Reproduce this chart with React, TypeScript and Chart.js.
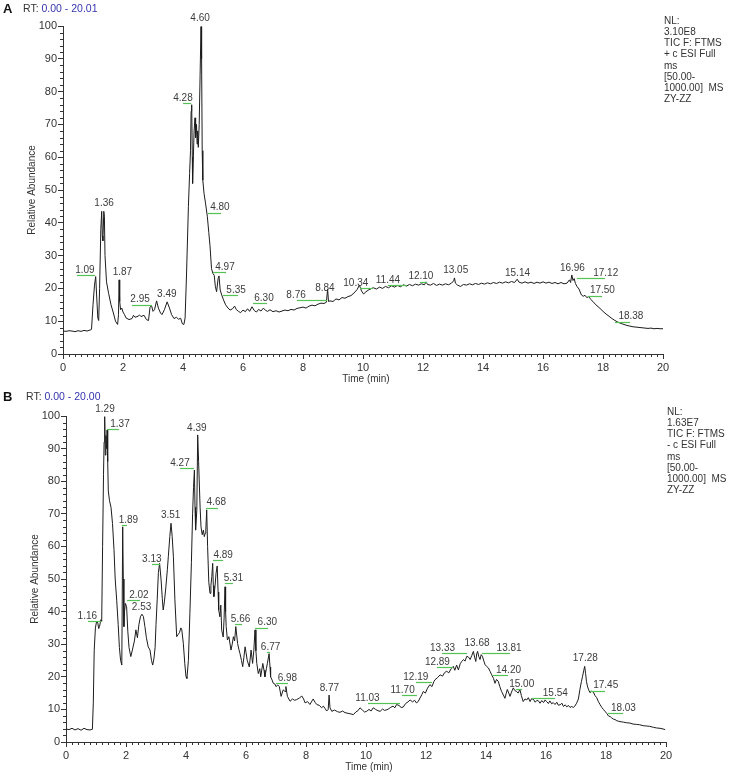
import React, { useEffect, useRef } from 'react';
import { Chart, registerables } from 'chart.js';

Chart.register(...registerables);

// ---- Panel A data: [time (min), relative abundance] ----
const traceA: [number, number][] = [
  [0.0, 7.0], [0.1, 6.9], [0.2, 7.1], [0.3, 7.0], [0.4, 6.8], [0.5, 7.1], [0.6, 6.9], [0.7, 7.2], [0.8, 7.0], [0.9, 7.3],
  [0.95, 7.5], [1.0, 15], [1.05, 21], [1.09, 23.6], [1.12, 18], [1.16, 11], [1.19, 10.2], [1.22, 20], [1.26, 38], [1.29, 43.5],
  [1.31, 36], [1.33, 34.5], [1.36, 43.5], [1.38, 42], [1.4, 30], [1.45, 22], [1.52, 18.5], [1.6, 15], [1.68, 12.5], [1.75, 10],
  [1.82, 9], [1.85, 12], [1.87, 22.6], [1.89, 16], [1.92, 13.5], [1.96, 14], [2.0, 12.8], [2.05, 12], [2.1, 11], [2.2, 10.5],
  [2.3, 10.8], [2.35, 11.8], [2.4, 11.2], [2.5, 11.5], [2.55, 11.9], [2.6, 11.4], [2.7, 11.8], [2.78, 10.5], [2.85, 10.2], [2.9, 14.2],
  [2.95, 14.8], [3.0, 13], [3.05, 13.5], [3.12, 16.2], [3.18, 14], [3.25, 12.5], [3.3, 12], [3.38, 13.5], [3.47, 15.9], [3.55, 14],
  [3.62, 12], [3.7, 10.8], [3.78, 11.2], [3.85, 10.6], [3.92, 10.9], [3.98, 9.2], [4.03, 9], [4.07, 11], [4.12, 25], [4.18, 45],
  [4.22, 55], [4.25, 62], [4.27, 74], [4.29, 76], [4.31, 60], [4.32, 52], [4.34, 58], [4.37, 68], [4.4, 72], [4.42, 66],
  [4.45, 70], [4.47, 64], [4.49, 68], [4.51, 63], [4.54, 70], [4.57, 85], [4.6, 99.8], [4.62, 90], [4.64, 62], [4.66, 53],
  [4.7, 49], [4.75, 46], [4.81, 42], [4.86, 37], [4.9, 33], [4.95, 26], [5.0, 24.5], [5.04, 24], [5.08, 20.5], [5.12, 19],
  [5.17, 23], [5.2, 23.8], [5.24, 19.5], [5.29, 18], [5.35, 16.5], [5.42, 15], [5.5, 14], [5.57, 13.4], [5.65, 13.8], [5.72, 14.6],
  [5.78, 13.5], [5.85, 13], [5.92, 12.6], [6.0, 13.4], [6.08, 12.9], [6.15, 13.8], [6.22, 13.0], [6.3, 14.4], [6.38, 13.2], [6.45, 12.8],
  [6.52, 13.6], [6.6, 13.1], [6.68, 14.0], [6.75, 13.3], [6.82, 13.0], [6.9, 13.5], [7.0, 12.9], [7.1, 13.2], [7.2, 12.8], [7.3, 13.1],
  [7.4, 13.4], [7.5, 13.2], [7.6, 13.6], [7.7, 13.4], [7.8, 13.9], [7.9, 14.1], [8.0, 14.3], [8.1, 14.0], [8.2, 14.6], [8.3, 14.9],
  [8.4, 14.7], [8.5, 15.2], [8.6, 15.5], [8.7, 15.4], [8.78, 15.8], [8.82, 19.8], [8.85, 16], [8.9, 16.2], [9.0, 16.0], [9.1, 16.8],
  [9.2, 16.5], [9.3, 17.2], [9.4, 17.0], [9.5, 17.5], [9.6, 17.8], [9.7, 18.6], [9.8, 19.6], [9.88, 21.0], [9.95, 19.2], [10.02, 18.3],
  [10.1, 19.0], [10.2, 19.6], [10.34, 20.2], [10.45, 19.8], [10.55, 20.4], [10.65, 20.0], [10.75, 20.6], [10.85, 20.2], [10.95, 20.8], [11.05, 20.4],
  [11.15, 20.9], [11.25, 20.5], [11.35, 21.1], [11.45, 20.7], [11.55, 21.2], [11.65, 20.8], [11.75, 21.3], [11.85, 21.0], [11.95, 21.4], [12.05, 21.1],
  [12.1, 22.0], [12.15, 21.2], [12.25, 21.0], [12.35, 21.5], [12.45, 20.9], [12.55, 21.3], [12.65, 21.0], [12.75, 21.4], [12.85, 21.1], [12.95, 21.6],
  [13.02, 22.3], [13.05, 23.2], [13.08, 21.6], [13.15, 21.0], [13.25, 20.6], [13.35, 21.2], [13.45, 21.0], [13.55, 21.4], [13.65, 21.1], [13.75, 21.5],
  [13.85, 21.2], [13.95, 21.6], [14.05, 21.3], [14.15, 21.7], [14.25, 21.4], [14.35, 21.8], [14.45, 21.5], [14.55, 21.9], [14.65, 21.6], [14.75, 22.0],
  [14.85, 21.7], [14.95, 22.1], [15.05, 21.8], [15.14, 22.8], [15.2, 21.9], [15.3, 21.6], [15.4, 22.0], [15.5, 21.6], [15.6, 21.9], [15.7, 21.5],
  [15.8, 21.9], [15.9, 21.6], [16.0, 22.0], [16.1, 21.6], [16.2, 21.9], [16.3, 21.5], [16.4, 21.8], [16.5, 21.4], [16.6, 21.8], [16.7, 21.4],
  [16.8, 21.6], [16.88, 22.6], [16.92, 21.8], [16.96, 24.1], [17.0, 22.4], [17.04, 23.0], [17.08, 21.5], [17.14, 20.5], [17.2, 19.8], [17.28, 18.0],
  [17.34, 17.6], [17.4, 17.9], [17.46, 17.2], [17.52, 17.5], [17.6, 16.6], [17.7, 15.6], [17.8, 14.7], [17.9, 13.9], [18.0, 13.0], [18.1, 12.2],
  [18.2, 11.5], [18.3, 10.8], [18.4, 10.2], [18.5, 9.7], [18.6, 9.3], [18.7, 9.0], [18.8, 8.7], [18.9, 8.5], [19.0, 8.3], [19.1, 8.2],
  [19.2, 8.1], [19.3, 8.0], [19.4, 7.9], [19.5, 7.8], [19.6, 7.9], [19.7, 7.7], [19.8, 7.8], [19.9, 7.7], [20.0, 7.7],
];

// ---- Panel B data ----
const traceB: [number, number][] = [
  [0.0, 4.0], [0.1, 3.8], [0.2, 4.2], [0.3, 3.7], [0.4, 4.1], [0.5, 3.6], [0.6, 4.2], [0.7, 3.8], [0.8, 3.7], [0.88, 3.9],
  [0.91, 12], [0.94, 28], [0.98, 35], [1.02, 37], [1.06, 36.5], [1.09, 34.8], [1.12, 35.5], [1.16, 37.5], [1.19, 37], [1.22, 60],
  [1.25, 82], [1.27, 92], [1.29, 99.8], [1.31, 88], [1.33, 94], [1.35, 90], [1.37, 95.7], [1.39, 86], [1.41, 77], [1.45, 74],
  [1.5, 72], [1.55, 67], [1.6, 59], [1.64, 50], [1.69, 43.5], [1.74, 36], [1.78, 29], [1.82, 25], [1.86, 23.6], [1.89, 66],
  [1.91, 50], [1.93, 35.4], [1.95, 40], [1.98, 42.5], [2.02, 41.5], [2.06, 34], [2.1, 29], [2.16, 26.2], [2.22, 28.5], [2.28, 31],
  [2.33, 34.4], [2.38, 32], [2.43, 36], [2.48, 38.4], [2.53, 39.2], [2.58, 38.5], [2.63, 35.4], [2.68, 32], [2.74, 29.2], [2.8, 28.2],
  [2.85, 25], [2.89, 23.6], [2.93, 25.5], [2.97, 29], [3.0, 36], [3.04, 43.6], [3.08, 52], [3.12, 54.8], [3.17, 49.7], [3.21, 44],
  [3.24, 40.5], [3.28, 43], [3.33, 47.6], [3.38, 53], [3.41, 56.8], [3.46, 63], [3.5, 67.1], [3.54, 63], [3.58, 56.8], [3.63, 43.6],
  [3.69, 32.3], [3.74, 33], [3.78, 33.5], [3.83, 35], [3.86, 34.4], [3.91, 30.3], [3.96, 24], [4.0, 20], [4.03, 19.5], [4.08, 25],
  [4.13, 39.5], [4.18, 55], [4.22, 70], [4.25, 78], [4.28, 83.4], [4.3, 72], [4.32, 65], [4.36, 71], [4.39, 94.2], [4.42, 86],
  [4.44, 80.4], [4.47, 72], [4.5, 66], [4.54, 63.6], [4.58, 65], [4.61, 63], [4.64, 64], [4.66, 65], [4.69, 71.2], [4.72, 60],
  [4.76, 49], [4.8, 45.6], [4.83, 48], [4.86, 50.7], [4.89, 54.8], [4.91, 48], [4.93, 44.6], [4.97, 48], [5.0, 51.7], [5.04, 54],
  [5.07, 46], [5.09, 40.5], [5.13, 38.4], [5.16, 42], [5.19, 34.3], [5.24, 32.2], [5.27, 38], [5.3, 47.6], [5.32, 40], [5.34, 35.4],
  [5.38, 31.3], [5.43, 32.3], [5.5, 28.2], [5.54, 30], [5.58, 32.3], [5.62, 31], [5.66, 35.4], [5.72, 30.2], [5.76, 28.5], [5.8, 27.1],
  [5.85, 25], [5.89, 23.1], [5.93, 26], [5.97, 29.2], [6.0, 27.5], [6.04, 25.1], [6.11, 23], [6.17, 28.2], [6.22, 24.1], [6.26, 28],
  [6.3, 34.4], [6.33, 28], [6.36, 24.1], [6.41, 21], [6.46, 22.5], [6.49, 20], [6.56, 24.1], [6.6, 22], [6.63, 20], [6.68, 22.5],
  [6.71, 24], [6.77, 27.1], [6.8, 23], [6.82, 20], [6.87, 19], [6.91, 18], [6.96, 17.8], [7.0, 17], [7.06, 17.5], [7.11, 17],
  [7.17, 14], [7.24, 16], [7.3, 15.5], [7.33, 17], [7.38, 14], [7.47, 12.5], [7.55, 13.2], [7.62, 12.8], [7.69, 13], [7.78, 13.5],
  [7.86, 14.1], [7.92, 13.2], [7.97, 12], [8.05, 12.4], [8.13, 11.5], [8.2, 12.6], [8.24, 13.2], [8.3, 12.2], [8.36, 11.5], [8.45, 11.2],
  [8.52, 10.5], [8.58, 11], [8.64, 10.2], [8.69, 9.5], [8.74, 10], [8.77, 14.4], [8.8, 10.5], [8.86, 9.4], [8.95, 9.8], [9.05, 9.3],
  [9.13, 9.1], [9.22, 9.5], [9.3, 9.0], [9.4, 8.8], [9.5, 8.6], [9.58, 8.4], [9.66, 9.2], [9.73, 9.6], [9.8, 10.5], [9.88, 9.8],
  [9.95, 9.2], [10.02, 9.4], [10.1, 10.0], [10.17, 9.5], [10.24, 10.5], [10.32, 10.0], [10.4, 9.6], [10.47, 9.4], [10.55, 10.1], [10.62, 9.7],
  [10.7, 9.9], [10.74, 10.1], [10.82, 10.6], [10.9, 11.0], [10.96, 10.5], [11.02, 11.5], [11.1, 11.2], [11.17, 10.6], [11.24, 10.7], [11.32, 11.8],
  [11.4, 12.3], [11.47, 12.9], [11.55, 12.3], [11.62, 12.8], [11.68, 12.0], [11.74, 12.4], [11.8, 13.5], [11.86, 14.5], [11.91, 15.5], [11.98, 15.0],
  [12.05, 16.5], [12.13, 17.6], [12.2, 17.0], [12.26, 18.5], [12.3, 19.1], [12.38, 19.7], [12.47, 20.6], [12.55, 20.2], [12.62, 21.3], [12.69, 21.7],
  [12.76, 21.2], [12.84, 22.5], [12.91, 23.2], [12.96, 22.0], [13.02, 23.6], [13.08, 22.1], [13.14, 24.0], [13.19, 24.7], [13.25, 25.3], [13.3, 24.8],
  [13.36, 26.3], [13.42, 26.0], [13.47, 25.3], [13.53, 26.6], [13.58, 27.8], [13.62, 26.0], [13.66, 24.7], [13.69, 27.0], [13.72, 27.8], [13.76, 26.2],
  [13.8, 25.3], [13.84, 26.8], [13.88, 26.3], [13.93, 24.8], [13.97, 23.7], [14.02, 23.2], [14.08, 22.7], [14.14, 21.6], [14.19, 20.6], [14.25, 19.5],
  [14.3, 18.0], [14.35, 19.2], [14.41, 18.6], [14.46, 17.0], [14.52, 15.5], [14.58, 14.4], [14.63, 13.4], [14.67, 14.8], [14.71, 16.1], [14.76, 15.0],
  [14.8, 14.0], [14.85, 15.3], [14.91, 16.6], [14.96, 15.8], [15.02, 15.5], [15.07, 15.0], [15.13, 16.1], [15.18, 14.2], [15.24, 12.4], [15.3, 13.2],
  [15.36, 12.9], [15.41, 13.6], [15.47, 12.4], [15.52, 13.3], [15.58, 13.1], [15.64, 12.2], [15.7, 12.8], [15.76, 12.5], [15.8, 11.9], [15.86, 12.7],
  [15.92, 12.1], [15.97, 12.9], [16.02, 12.4], [16.08, 11.8], [16.13, 12.6], [16.19, 11.7], [16.24, 12.1], [16.3, 11.5], [16.36, 12.2], [16.41, 11.3],
  [16.47, 11.4], [16.53, 11.9], [16.58, 10.9], [16.64, 11.4], [16.69, 10.8], [16.75, 11.2], [16.8, 10.6], [16.86, 10.9], [16.91, 10.6], [16.96, 11.0],
  [17.02, 11.9], [17.08, 13.2], [17.13, 16.1], [17.18, 18.5], [17.22, 20.2], [17.26, 22.0], [17.29, 23.2], [17.32, 21.0], [17.35, 18.5], [17.38, 17.2],
  [17.42, 16.0], [17.47, 15.1], [17.52, 15.6], [17.58, 15.3], [17.63, 14.3], [17.69, 13.6], [17.74, 12.5], [17.8, 11.5], [17.86, 10.6], [17.92, 9.9],
  [17.97, 9.4], [18.03, 8.7], [18.08, 8.0], [18.14, 7.8], [18.19, 7.4], [18.25, 7.0], [18.3, 6.9], [18.36, 6.5], [18.41, 6.4], [18.5, 6.2],
  [18.58, 6.1], [18.69, 5.9], [18.8, 5.8], [18.9, 5.5], [19.02, 5.4], [19.12, 5.3], [19.24, 5.0], [19.36, 4.9], [19.46, 4.8], [19.58, 4.5],
  [19.69, 4.3], [19.8, 4.2], [19.9, 4.0], [19.97, 3.8],
];

// ---- Peak labels: [text, label x (min), label y (abundance), green line from, green line to] ----
type PeakLabel = [string, number, number, number?, number?];

const peaksA: PeakLabel[] = [
  ['1.09', 0.73, 25.6, 0.47, 1.08],
  ['1.36', 1.37, 46],
  ['1.87', 1.98, 25],
  ['2.95', 2.57, 16.6, 2.29, 2.95],
  ['3.49', 3.46, 18.2],
  ['4.28', 4.0, 78, 4.0, 4.28],
  ['4.60', 4.57, 102.4],
  ['4.80', 5.23, 44.6, 4.83, 5.25],
  ['4.97', 5.4, 26.6, 5.01, 5.43],
  ['5.35', 5.77, 19.5, 5.34, 5.84],
  ['6.30', 6.7, 17, 6.32, 6.81],
  ['8.76', 7.77, 18, 7.79, 8.79],
  ['8.84', 8.73, 20],
  ['10.34', 9.76, 21.7, 9.9, 10.34],
  ['11.44', 10.83, 22.6, 10.84, 11.46],
  ['12.10', 11.93, 23.6, 11.9, 12.12],
  ['13.05', 13.09, 25.4],
  ['15.14', 15.15, 24.6],
  ['16.96', 16.98, 26.1],
  ['17.12', 18.09, 24.6, 17.12, 18.07],
  ['17.50', 17.98, 19.3, 17.51, 17.96],
  ['18.38', 18.93, 11.4, 18.4, 18.9],
];

const peaksB: PeakLabel[] = [
  ['1.16', 0.71, 38.7, 0.74, 1.16],
  ['1.29', 1.3, 102],
  ['1.37', 1.8, 97.4, 1.38, 1.78],
  ['1.89', 2.08, 68.1, 1.86, 2.02],
  ['2.02', 2.43, 45.1, 2.02, 2.47],
  ['2.53', 2.52, 41.3],
  ['3.13', 2.86, 56.1, 2.86, 3.13],
  ['3.51', 3.49, 69.6],
  ['4.27', 3.8, 85.5, 3.8, 4.28],
  ['4.39', 4.36, 96.1],
  ['4.68', 5.01, 73.4, 4.67, 5.08],
  ['4.89', 5.24, 57.4, 4.89, 5.24],
  ['5.31', 5.58, 50.2, 5.3, 5.58],
  ['5.66', 5.82, 37.6, 5.63, 5.86],
  ['6.30', 6.71, 36.6, 6.3, 6.74],
  ['6.77', 6.82, 29.2, 6.69, 6.8],
  ['6.98', 7.38, 19.7, 7.0, 7.41],
  ['8.77', 8.78, 16.4],
  ['11.03', 10.05, 13.4, 10.08, 11.13],
  ['11.70', 11.22, 16, 11.19, 11.69],
  ['12.19', 11.66, 20, 11.67, 12.19],
  ['12.89', 12.38, 24.6, 12.36, 12.91],
  ['13.33', 12.55, 28.9, 12.52, 13.36],
  ['13.68', 13.7, 30.3],
  ['13.81', 14.77, 28.7, 13.86, 14.8],
  ['14.20', 14.75, 22.1, 14.22, 14.74],
  ['15.00', 15.19, 17.8, 15.0, 15.19],
  ['15.54', 16.31, 14.9, 15.52, 16.3],
  ['17.28', 17.31, 25.7],
  ['17.45', 17.99, 17.3, 17.47, 17.97],
  ['18.03', 18.58, 10.3, 18.08, 18.58],
];

const xTicks = [0, 2, 4, 6, 8, 10, 12, 14, 16, 18, 20];
const yTicks = [0, 10, 20, 30, 40, 50, 60, 70, 80, 90, 100];

const infoA = ['NL:', '3.10E8', 'TIC F: FTMS', '+ c ESI Full', 'ms', '[50.00-', '1000.00]  MS', 'ZY-ZZ'];
const infoB = ['NL:', '1.63E7', 'TIC F: FTMS', '- c ESI Full', 'ms', '[50.00-', '1000.00]  MS', 'ZY-ZZ'];

const FONT = '"Liberation Sans", Arial, sans-serif';
const W = 731;

interface PanelProps {
  top: number;
  height: number;
  letter: string;
  rtFrom: string;
  rtTo: string;
  rtX: number;
  trace: [number, number][];
  peaks: PeakLabel[];
  info: string[];
  infoX: number;
  infoY: number;
  areaLeft: number;
  areaRight: number;
  areaTop: number;
  areaBottom: number;
}

function Panel(p: PanelProps) {
  const ref = useRef<HTMLCanvasElement | null>(null);

  useEffect(() => {
    const canvas = ref.current;
    if (!canvas) return;

    const overlay = {
      id: 'xcalibur',
      afterDraw(chart: any) {
        const { ctx, chartArea } = chart;
        const xs = chart.scales.x;
        const ys = chart.scales.y;
        ctx.save();
        // minor ticks
        ctx.strokeStyle = '#333';
        ctx.lineWidth = 1;
        ctx.beginPath();
        for (let v = 0; v <= 100; v += 2) {
          if (v % 10 === 0) continue;
          const py = Math.round(ys.getPixelForValue(v)) + 0.5;
          ctx.moveTo(chartArea.left - 3, py);
          ctx.lineTo(chartArea.left, py);
        }
        for (let i = 0; i <= 100; i++) {
          if (i % 10 === 0) continue;
          const px = Math.round(xs.getPixelForValue(i * 0.2)) + 0.5;
          ctx.moveTo(px, chartArea.bottom);
          ctx.lineTo(px, chartArea.bottom + 3);
        }
        ctx.stroke();

        // peak labels
        ctx.font = `10px ${FONT}`;
        ctx.textAlign = 'center';
        ctx.textBaseline = 'middle';
        for (const [text, lx, ly, l1, l2] of p.peaks) {
          const px = xs.getPixelForValue(lx);
          const py = ys.getPixelForValue(ly);
          if (l1 !== undefined && l2 !== undefined) {
            ctx.strokeStyle = '#55c255';
            ctx.lineWidth = 1.2;
            ctx.beginPath();
            const gy = Math.round(py + 5) + 0.5;
            ctx.moveTo(Math.round(xs.getPixelForValue(l1)), gy);
            ctx.lineTo(Math.round(xs.getPixelForValue(l2)), gy);
            ctx.stroke();
          }
          ctx.fillStyle = '#3c3c3c';
          ctx.fillText(text, px, py);
        }

        // axis titles
        ctx.fillStyle = '#333';
        ctx.font = `10px ${FONT}`;
        ctx.textAlign = 'center';
        ctx.fillText('Time (min)', (chartArea.left + chartArea.right) / 2 + 3, chartArea.bottom + 25);
        ctx.save();
        ctx.translate(chartArea.left - 31, (chartArea.top + chartArea.bottom) / 2);
        ctx.rotate(-Math.PI / 2);
        ctx.fillText('Relative Abundance', 0, 0);
        ctx.restore();

        // panel letter and RT range
        ctx.textAlign = 'left';
        ctx.font = `bold 13px ${FONT}`;
        ctx.fillStyle = '#111';
        ctx.fillText(p.letter, 3, 9);
        ctx.font = `10.5px ${FONT}`;
        ctx.fillStyle = '#333';
        ctx.fillText('RT:', p.rtX, 9);
        const w = ctx.measureText('RT: ').width;
        ctx.fillStyle = '#3434b0';
        ctx.fillText(`${p.rtFrom} - ${p.rtTo}`, p.rtX + w, 9);

        // info block
        ctx.font = `10px ${FONT}`;
        ctx.fillStyle = '#333';
        p.info.forEach((line, i) => {
          ctx.fillText(line, p.infoX, p.infoY + i * 11.2);
        });
        ctx.restore();
      },
    };

    const chart = new Chart(canvas, {
      type: 'line',
      data: {
        datasets: [
          {
            data: p.trace.map(([x, y]) => ({ x, y })),
            borderColor: '#1c1c1c',
            borderWidth: 1,
            pointRadius: 0,
            tension: 0,
            fill: false,
          },
        ],
      },
      options: {
        animation: false,
        responsive: false,
        devicePixelRatio: 1,
        layout: {
          padding: { top: p.areaTop, right: W - p.areaRight, left: 0, bottom: 0 },
        },
        plugins: { legend: { display: false }, tooltip: { enabled: false } },
        scales: {
          x: {
            type: 'linear',
            min: 0,
            max: 20,
            afterFit: (s: any) => {
              s.height = p.height - p.areaBottom;
            },
            afterBuildTicks: (s: any) => {
              s.ticks = xTicks.map((v) => ({ value: v }));
            },
            ticks: {
              autoSkip: false,
              maxRotation: 0,
              padding: 2,
              color: '#333',
              font: { family: FONT, size: 11 },
              callback: (v: any) => String(v),
            },
            grid: { display: true, drawOnChartArea: false, tickLength: 5, tickColor: '#333', color: '#333' },
            border: { display: true, color: '#333', width: 1 },
          },
          y: {
            type: 'linear',
            min: 0,
            max: 100,
            afterFit: (s: any) => {
              s.width = p.areaLeft;
            },
            afterBuildTicks: (s: any) => {
              s.ticks = yTicks.map((v) => ({ value: v }));
            },
            ticks: {
              autoSkip: false,
              padding: 1,
              color: '#333',
              font: { family: FONT, size: 11 },
              callback: (v: any) => String(v),
            },
            grid: { display: true, drawOnChartArea: false, tickLength: 5, tickColor: '#333', color: '#333' },
            border: { display: true, color: '#333', width: 1 },
          },
        },
      },
      plugins: [overlay],
    });

    return () => chart.destroy();
  }, []);

  return (
    <canvas
      ref={ref}
      width={W}
      height={p.height}
      style={{ position: 'absolute', left: 0, top: p.top, width: W, height: p.height, display: 'block' }}
    />
  );
}

export default function App() {
  return (
    <div style={{ position: 'absolute', left: 0, top: 0, width: W, height: 777, background: '#fff', overflow: 'hidden' }}>
      <Panel
        top={0}
        height={388}
        letter="A"
        rtFrom="0.00"
        rtTo="20.01"
        rtX={23}
        trace={traceA}
        peaks={peaksA}
        info={infoA}
        infoX={664}
        infoY={21}
        areaLeft={63}
        areaRight={663}
        areaTop={26}
        areaBottom={354}
      />
      <Panel
        top={388}
        height={389}
        letter="B"
        rtFrom="0.00"
        rtTo="20.00"
        rtX={26}
        trace={traceB}
        peaks={peaksB}
        info={infoB}
        infoX={667}
        infoY={24}
        areaLeft={66}
        areaRight={666}
        areaTop={28}
        areaBottom={354}
      />
    </div>
  );
}
